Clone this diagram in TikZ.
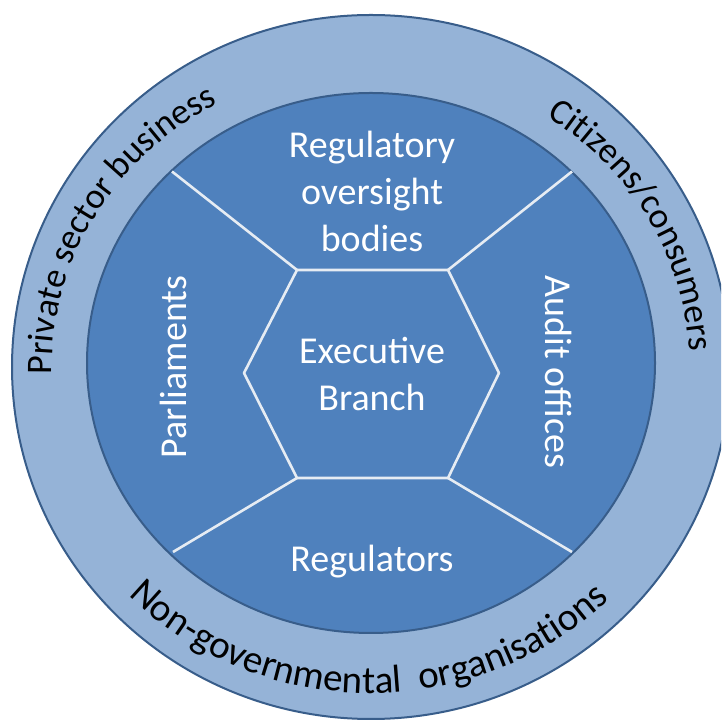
\documentclass[tikz,border=0pt]{standalone}
\usepackage{fontspec}
\setmainfont{Carlito}
\usetikzlibrary{decorations.text}
\definecolor{ringlight}{HTML}{95B3D7}
\definecolor{coredark}{HTML}{4F81BD}
\definecolor{edgeblue}{HTML}{385D8A}
\definecolor{seamwhite}{HTML}{E6ECF3}
\begin{document}
\begin{tikzpicture}[x=1pt,y=1pt,
  ringedge/.style={draw=edgeblue, line width=2pt},
  seam/.style={draw=seamwhite, line width=2.6pt},
  innerlabel/.style={text=white, font=\fontsize{38}{47}\selectfont, align=center, inner sep=0pt},
]
\useasboundingbox[fill=white] (0,0) rectangle (721,722);

% outer stakeholder ring
\begin{scope}
  \clip (0,0) rectangle (721,722);
  \draw[ringedge, fill=ringlight] (371,355) ellipse[x radius=359, y radius=352];
\end{scope}
% inner institutional disc
\draw[ringedge, fill=coredark] (371,359) ellipse[x radius=284, y radius=270];

% hexagon corners
\coordinate (h1) at (297,452);
\coordinate (h2) at (448,452);
\coordinate (h3) at (499,349);
\coordinate (h4) at (448,244);
\coordinate (h5) at (297,244);
\coordinate (h6) at (244,349);
% spoke ends on the inner disc
\coordinate (s1) at (172,550.5);
\coordinate (s2) at (572,550.5);
\coordinate (s3) at (572,170);
\coordinate (s4) at (173,170);

\draw[seam, line join=round] (h1) -- (h2) -- (h3) -- (h4) -- (h5) -- (h6) -- cycle;
\draw[seam] (h1) -- (s1);
\draw[seam] (h2) -- (s2);
\draw[seam] (h4) -- (s3);
\draw[seam] (h5) -- (s4);

% inner labels
\node[innerlabel] (exec) at (372,347.7) {Executive\\Branch};
\node[innerlabel] (oversight) at (372,530.5) {Regulatory\\oversight\\bodies};
\node[innerlabel, anchor=base] (regs) at (372,150) {Regulators};
\node[innerlabel, rotate=90, anchor=base] (parl) at (186,355) {Parliaments};
\node[innerlabel, rotate=-90, anchor=base] (audit) at (545,350) {Audit offices};

% curved labels in the outer ring
\path[decorate, decoration={text along path, text align=center,
    text={|\fontsize{36}{36}\selectfont|Private sector business}}]
  (371,355) ++(200.5:319 and 300) arc[start angle=200.5, end angle=100.5, x radius=319, y radius=300];
\path[decorate, decoration={text along path, text align=center,
    text={|\fontsize{36}{36}\selectfont|Citizens/consumers}}]
  (371,355) ++(79.2:319 and 300) arc[start angle=79.2, end angle=-20.8, x radius=319, y radius=300];
\path[decorate, decoration={text along path, text align=center,
    text={|\fontsize{39}{39}\selectfont|Non-governmental{\ \ }organisations}}]
  (371,355) ++(200:340 and 326) arc[start angle=200, end angle=339, x radius=340, y radius=326];
\end{tikzpicture}
\end{document}
